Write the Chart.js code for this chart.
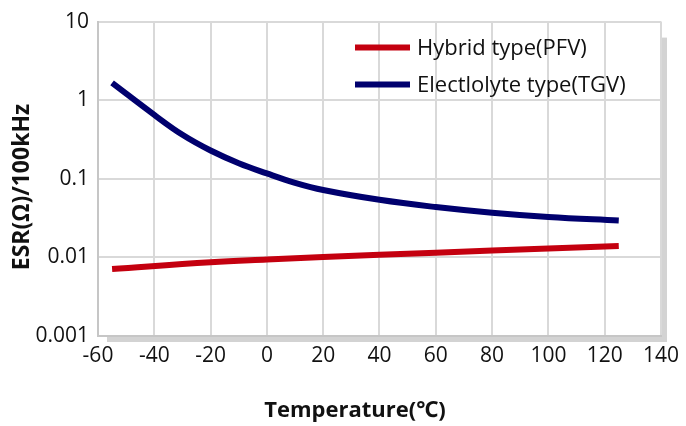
<!DOCTYPE html>
<html>
<head>
<meta charset="utf-8">
<script src="https://cdn.jsdelivr.net/npm/chart.js@4"></script>
<style>
  html, body { margin: 0; padding: 0; background: #fff; }
  #wrap { width: 686px; height: 426px; }
</style>
</head>
<body>
<div id="wrap"><canvas id="esrChart" width="686" height="426"></canvas></div>
<script>
const hybridTemps = [-55, -20, 0, 40, 80, 125];
const hybridEsr = [0.0071, 0.0087, 0.0094, 0.0108, 0.0122, 0.014];

const electTemps = [-55, -40, -30, -20, -10, 0, 10, 20, 40, 60, 80, 100, 125];
const electEsr = [1.66, 0.65, 0.363, 0.229, 0.158, 0.117, 0.089, 0.072, 0.054, 0.0437, 0.037, 0.0327, 0.0295];

const seriesNames = ['Hybrid type(PFV)', 'Electlolyte type(TGV)'];
const yTicks = [0.001, 0.01, 0.1, 1, 10];
const xTitle = 'Temperature(℃)';
const yTitle = 'ESR(Ω)/100kHz';

const FONT = '"Open Sans", "Noto Sans", sans-serif';

function toPoints(xs, ys) {
  return xs.map((x, i) => ({ x: x, y: ys[i] }));
}

// grey drop shadow behind the plot frame
const frameShadow = {
  id: 'frameShadow',
  beforeDraw(chart) {
    const a = chart.chartArea;
    const c = chart.ctx;
    c.save();
    c.fillStyle = '#d3d3d3';
    c.fillRect(a.right + 1, a.top + 16, 5, a.bottom - a.top - 11);
    c.fillRect(a.left + 9, a.bottom + 1, a.right - a.left - 3, 5);
    c.restore();
  }
};

// legend inside the plot + axis titles
const extras = {
  id: 'extras',
  afterDraw(chart) {
    const c = chart.ctx;
    const a = chart.chartArea;
    c.save();
    chart.data.datasets.forEach((ds, i) => {
      const y = a.top + 26 + i * 37;
      c.strokeStyle = ds.borderColor;
      c.lineWidth = 6;
      c.beginPath();
      c.moveTo(a.left + 257, y);
      c.lineTo(a.left + 312, y);
      c.stroke();
      c.fillStyle = '#111';
      c.font = '22px ' + FONT;
      c.textBaseline = 'middle';
      c.textAlign = 'left';
      c.fillText(ds.label, a.left + 319, y + 1);
    });
    c.fillStyle = '#111';
    c.textAlign = 'center';
    c.textBaseline = 'middle';
    c.font = 'bold 22px ' + FONT;
    c.fillText(xTitle, 355, 411);
    c.translate(22, 187);
    c.rotate(-Math.PI / 2);
    c.font = 'bold 23px ' + FONT;
    c.fillText(yTitle, 0, 0);
    c.restore();
  }
};

const ctx = document.getElementById('esrChart').getContext('2d');

new Chart(ctx, {
  type: 'line',
  data: {
    datasets: [{
      label: seriesNames[0],
      data: toPoints(hybridTemps, hybridEsr),
      borderColor: '#c4000f',
      borderWidth: 6,
      pointRadius: 0,
      tension: 0.4,
      borderCapStyle: 'butt'
    }, {
      label: seriesNames[1],
      data: toPoints(electTemps, electEsr),
      borderColor: '#00006e',
      borderWidth: 6,
      pointRadius: 0,
      tension: 0.4,
      borderCapStyle: 'butt'
    }]
  },
  options: {
    responsive: false,
    animation: false,
    layout: { padding: { top: 17, right: 22, left: 0, bottom: 0 } },
    plugins: {
      legend: { display: false },
      tooltip: { enabled: false }
    },
    scales: {
      x: {
        type: 'linear',
        min: -60,
        max: 140,
        ticks: { stepSize: 20, color: '#111', padding: 7, font: { family: FONT, size: 21 } },
        grid: { color: '#d9d9d9', lineWidth: 2, drawTicks: false },
        border: { color: '#c6c6c6', width: 2 },
        afterFit(s) { s.height = 90; }
      },
      y: {
        type: 'logarithmic',
        min: 0.001,
        max: 10,
        afterBuildTicks(s) { s.ticks = yTicks.map(v => ({ value: v })); },
        ticks: {
          color: '#111',
          padding: 9,
          font: { family: FONT, size: 21 },
          callback: v => String(v)
        },
        grid: { color: '#d9d9d9', lineWidth: 2, drawTicks: false },
        border: { color: '#c6c6c6', width: 2 },
        afterFit(s) { s.width = 98; }
      }
    }
  },
  plugins: [frameShadow, extras]
});
</script>
</body>
</html>
